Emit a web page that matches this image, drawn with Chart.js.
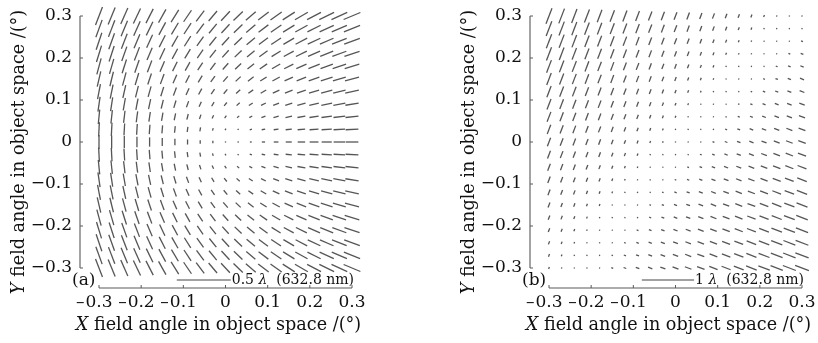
<!DOCTYPE html>
<html>
<head>
<meta charset="utf-8">
<script src="https://cdn.jsdelivr.net/npm/chart.js@4.4.1/dist/chart.umd.min.js"></script>
<style>
  html, body { margin: 0; padding: 0; background: #fff; }
  #wrap { position: relative; width: 818px; height: 343px; overflow: hidden; }
  canvas { position: absolute; top: 0; }
  #panelA { left: 0; }
  #panelB { left: 450px; }
</style>
</head>
<body>
<div id="wrap">
  <canvas id="panelA" width="368" height="343"></canvas>
  <canvas id="panelB" width="368" height="343"></canvas>
</div>
<script>
// field sample grid (degrees in object space)
const fieldX = [-0.30, -0.27, -0.24, -0.21, -0.18, -0.15, -0.12, -0.09, -0.06, -0.03, 0,
                0.03, 0.06, 0.09, 0.12, 0.15, 0.18, 0.21, 0.24, 0.27, 0.30];
const fieldY = [0.30, 0.27, 0.24, 0.21, 0.18, 0.15, 0.12, 0.09, 0.06, 0.03, 0,
                -0.03, -0.06, -0.09, -0.12, -0.15, -0.18, -0.21, -0.24, -0.27, -0.30];
const tickValues = [-0.3, -0.2, -0.1, 0, 0.1, 0.2, 0.3];
const tickLabels = ['\u22120.3', '\u22120.2', '\u22120.1', '0', '0.1', '0.2', '0.3'];

// (a) astigmatism in waves: cos2θ part per column, sin2θ part per row
const astigColA = [-0.132, -0.122, -0.110, -0.098, -0.086, -0.073, -0.060, -0.047, -0.034, -0.021, -0.009,
                   0.004, 0.017, 0.030, 0.043, 0.056, 0.069, 0.082, 0.094, 0.106, 0.118];
const astigRowA = [0.120, 0.110, 0.100, 0.089, 0.077, 0.064, 0.052, 0.039, 0.026, 0.013, 0,
                   -0.013, -0.026, -0.039, -0.052, -0.064, -0.077, -0.089, -0.100, -0.110, -0.120];

// (b) single-axis astigmatism in waves: row term + column term, sign flips the axis
const astigRowB = [0.145, 0.129, 0.112, 0.097, 0.083, 0.069, 0.055, 0.042, 0.028, 0.013, 0,
                   -0.014, -0.030, -0.043, -0.058, -0.072, -0.084, -0.096, -0.109, -0.120, -0.131];
const astigColB = [0.174, 0.157, 0.141, 0.124, 0.109, 0.092, 0.076, 0.059, 0.043, 0.027, 0.011,
                   -0.004, -0.022, -0.038, -0.054, -0.070, -0.086, -0.103, -0.120, -0.135, -0.152];
const axisAngleB = 69;

// scale bars: label, length in waves, field degrees per wave
const barA = { label: '0.5', waves: 0.5, degPerWave: 0.256 };
const barB = { label: '1', waves: 1, degPerWave: 0.124 };

const serif = '"DejaVu Serif", serif';

function buildPoints(compAt) {
  const pts = [];
  fieldY.forEach((y, i) => fieldX.forEach((x, j) => {
    const [c, s] = compAt(i, j);
    pts.push({ x, y, mag: Math.hypot(c, s), ang: Math.atan2(s, c) * 90 / Math.PI });
  }));
  return pts;
}

const pointsA = buildPoints((i, j) => [astigColA[j], astigRowA[i]]);
const pointsB = buildPoints((i, j) => {
  const d = astigRowB[i] + astigColB[j];
  const t = axisAngleB * Math.PI / 90;
  return [d * Math.cos(t), d * Math.sin(t)];
});

function drawRuns(ctx, runs, x, y, align) {
  const widths = runs.map(r => { ctx.font = r.font; return ctx.measureText(r.text).width; });
  const total = widths.reduce((a, b) => a + b, 0);
  let cx = align === 'center' ? x - total / 2 : align === 'right' ? x - total : x;
  const start = cx;
  ctx.textAlign = 'left';
  runs.forEach((r, k) => { ctx.font = r.font; ctx.fillText(r.text, cx, y); cx += widths[k]; });
  return start;
}

// detached axes, tick labels, titles and the wave scale bar
const fieldAxes = {
  id: 'fieldAxes',
  afterDatasetsDraw(chart, args, opts) {
    const { ctx, chartArea: area, scales: { x, y } } = chart;
    const axisX = area.left - 19;
    const axisY = area.bottom + 20;
    const tickFont = '17px ' + serif;
    ctx.save();

    ctx.strokeStyle = '#8c8c8c';
    ctx.lineWidth = 1.6;
    ctx.beginPath();
    ctx.moveTo(axisX, y.getPixelForValue(y.max));
    ctx.lineTo(axisX, y.getPixelForValue(y.min));
    ctx.stroke();

    ctx.strokeStyle = '#5a5a5a';
    ctx.lineWidth = 1.2;
    ctx.beginPath();
    ctx.moveTo(x.getPixelForValue(x.min), axisY);
    ctx.lineTo(x.getPixelForValue(x.max), axisY);
    ctx.stroke();

    ctx.lineWidth = 1;
    ctx.fillStyle = '#111';
    ctx.textBaseline = 'middle';
    tickValues.forEach((v, k) => {
      const py = y.getPixelForValue(v);
      const px = x.getPixelForValue(v);
      ctx.beginPath();
      ctx.moveTo(axisX, py); ctx.lineTo(axisX + 3, py);
      ctx.moveTo(px, axisY); ctx.lineTo(px, axisY - 3);
      ctx.stroke();

      ctx.font = tickFont;
      ctx.textAlign = 'right';
      ctx.fillText(tickLabels[k], axisX - 8, py);

      // x labels: digits centred on the tick, a shorter minus hung to the left
      const lab = tickLabels[k];
      const neg = lab.startsWith('\u2212');
      const body = neg ? lab.slice(1) : lab;
      const w = ctx.measureText(body).width;
      ctx.textAlign = 'left';
      ctx.fillText(body, px - w / 2, axisY + 15);
      if (neg) {
        ctx.textAlign = 'right';
        ctx.fillText('\u2013', px - w / 2 - 1, axisY + 15);
      }
    });

    // panel letter
    ctx.textAlign = 'left';
    ctx.font = tickFont;
    ctx.fillText(opts.panel, axisX - 8, axisY - 7);

    // scale bar with wavelength note
    const small = '14px ' + serif;
    const smallIt = 'italic 14px ' + serif;
    const barY = axisY - 8;
    const textStart = drawRuns(ctx, [
      { text: opts.bar.label + ' ', font: small },
      { text: '\u03bb', font: smallIt },
      { text: '  (632.8 nm)', font: small }
    ], x.getPixelForValue(x.max) + 2, barY, 'right');
    const barLen = x.getPixelForValue(opts.bar.waves * opts.bar.degPerWave) - x.getPixelForValue(0);
    ctx.strokeStyle = '#444';
    ctx.lineWidth = 1;
    ctx.beginPath();
    ctx.moveTo(textStart - 1 - barLen, barY);
    ctx.lineTo(textStart - 1, barY);
    ctx.stroke();

    // axis titles
    const title = '17.6px ' + serif;
    const titleIt = 'italic 17.6px ' + serif;
    ctx.textBaseline = 'alphabetic';
    drawRuns(ctx, [
      { text: 'X', font: titleIt },
      { text: ' field angle in object space /(\u00b0)', font: title }
    ], (area.left + area.right) / 2 - 7, axisY + 42, 'center');

    ctx.translate(axisX - 56, (area.top + area.bottom) / 2 + 10);
    ctx.rotate(-Math.PI / 2);
    drawRuns(ctx, [
      { text: 'Y', font: titleIt },
      { text: ' field angle in object space /(\u00b0)', font: title }
    ], 0, 0, 'center');
    ctx.restore();
  }
};

function makePanel(id, points, panel, bar) {
  const halfLen = ctx => {
    if (!ctx.raw) return 0;
    const sx = ctx.chart.scales.x;
    const len = sx.getPixelForValue(ctx.raw.mag * bar.degPerWave) - sx.getPixelForValue(0);
    return Math.max(len / 2, 0.6);
  };
  return new Chart(document.getElementById(id), {
    type: 'scatter',
    data: {
      datasets: [{
        data: points,
        pointStyle: 'line',
        pointRadius: halfLen,
        pointHoverRadius: halfLen,
        pointRotation: ctx => ctx.raw ? -ctx.raw.ang : 0,
        pointBorderColor: '#555555',
        pointBorderWidth: 1.3,
        clip: false
      }]
    },
    options: {
      responsive: false,
      animation: false,
      events: [],
      layout: { padding: { left: 99, right: 16, top: 16, bottom: 75 } },
      scales: {
        x: { type: 'linear', min: -0.3, max: 0.3, display: false },
        y: { type: 'linear', min: -0.3, max: 0.3, display: false }
      },
      plugins: {
        legend: { display: false },
        tooltip: { enabled: false },
        fieldAxes: { panel, bar }
      }
    },
    plugins: [fieldAxes]
  });
}

makePanel('panelA', pointsA, '(a)', barA);
makePanel('panelB', pointsB, '(b)', barB);
</script>
</body>
</html>
